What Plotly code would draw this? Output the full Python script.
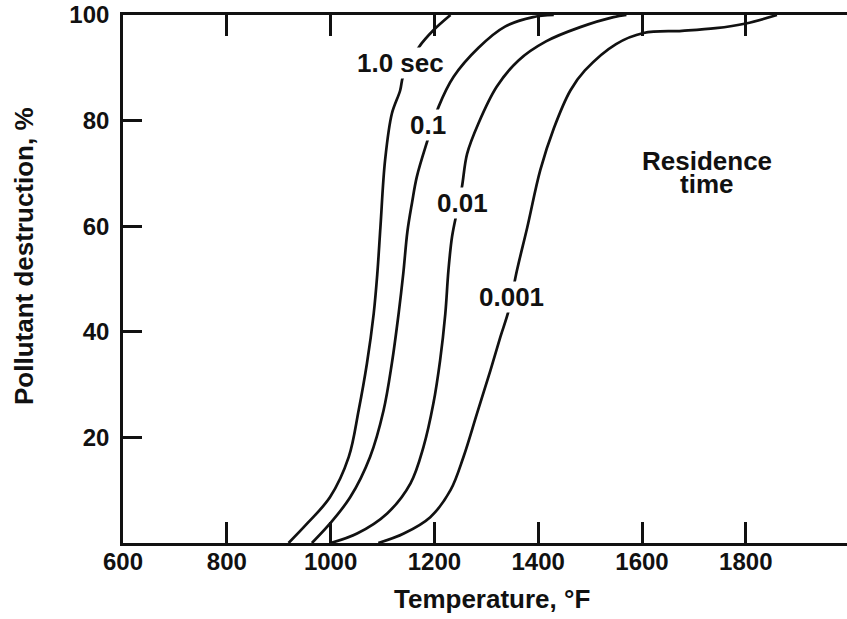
import plotly.graph_objects as go

# Residence time curves: temperature (°F) vs pollutant destruction (%)
t_10 = [919, 955, 999, 1035, 1054, 1070, 1083, 1090, 1096, 1105, 1118, 1134, 1140, 1170, 1198, 1231]
p_10 = [0, 3.7, 8.7, 16.3, 25.1, 34, 43.4, 51, 59.8, 72.5, 81.3, 85.7, 88.5, 93.9, 97.1, 100]

t_01 = [964, 999, 1038, 1076, 1102, 1118, 1131, 1140, 1148, 1157, 1166, 1186, 1208, 1237, 1285, 1336, 1390, 1430]
p_01 = [0, 3.7, 8.7, 16.3, 25.1, 34, 43.4, 51, 59.0, 64.5, 69.3, 76, 82.6, 88.3, 93.8, 97.8, 99.6, 100]

t_001 = [1000, 1051, 1109, 1154, 1179, 1198, 1211, 1221, 1227, 1234, 1244, 1253, 1263, 1285, 1320, 1362, 1415, 1481, 1545, 1570]
p_001 = [0, 1.8, 5.6, 11.3, 18.2, 26.4, 34.6, 43.4, 51.6, 58, 63, 67.4, 73.7, 79.5, 86.4, 91.4, 95, 97.7, 99.6, 100]

t_0001 = [1092, 1141, 1192, 1231, 1256, 1282, 1308, 1327, 1343, 1359, 1379, 1404, 1430, 1462, 1490, 1550, 1603, 1677, 1742, 1800, 1860]
p_0001 = [0, 1.8, 4.9, 10, 16.3, 24.5, 32.7, 39, 44, 51.6, 59.8, 70.6, 78.5, 85.7, 89.5, 94.5, 96.6, 97.0, 97.5, 98.4, 100]

x_ticks = [600, 800, 1000, 1200, 1400, 1600, 1800]
y_ticks = [20, 40, 60, 80, 100]

labels = ["1.0 sec", "0.1", "0.01", "0.001"]
label_x = [1134, 1188, 1255, 1349]
label_y = [90.9, 79.2, 64.4, 46.6]

FONT = "Liberation Sans, Arial, sans-serif"
LW = 2.7
INK = "#111111"
TXT = 26

fig = go.Figure()
for t, p in [(t_10, p_10), (t_01, p_01), (t_001, p_001), (t_0001, p_0001)]:
    fig.add_trace(go.Scatter(x=t, y=p, mode="lines",
                             line=dict(color=INK, width=LW, shape="spline"),
                             showlegend=False, hoverinfo="skip"))

for txt, x, y in zip(labels, label_x, label_y):
    fig.add_annotation(x=x, y=y, text="<b>%s</b>" % txt, showarrow=False,
                       font=dict(family=FONT, size=TXT, color=INK),
                       bgcolor="white", borderpad=0)

fig.add_annotation(x=1725, y=72.4, text="<b>Residence</b>", showarrow=False,
                   font=dict(family=FONT, size=TXT, color=INK))
fig.add_annotation(x=1725, y=67.9, text="<b>time</b>", showarrow=False,
                   font=dict(family=FONT, size=TXT, color=INK))

# axis titles
fig.add_annotation(xref="paper", yref="paper", x=(24 - 123) / 724, y=(543 - 256) / 528,
                   text="<b>Pollutant destruction, %</b>", textangle=-90, showarrow=False,
                   xanchor="center", yanchor="middle",
                   font=dict(family=FONT, size=TXT, color=INK))
fig.add_annotation(xref="paper", yref="paper", x=(491.5 - 123) / 724, y=(543 - 599) / 528,
                   text="<b>Temperature, °F</b>", showarrow=False,
                   xanchor="center", yanchor="middle",
                   font=dict(family=FONT, size=TXT, color=INK))

fig.update_layout(
    width=847, height=619,
    margin=dict(l=123, r=0, t=15, b=76),
    paper_bgcolor="white", plot_bgcolor="white",
    xaxis=dict(range=[600, 1995], tickvals=x_ticks, ticktext=[str(v) for v in x_ticks],
               ticks="inside", ticklen=21, tickwidth=LW, tickcolor=INK,
               showline=True, linewidth=LW, linecolor=INK, mirror="ticks",
               showgrid=False, zeroline=False, ticklabelstandoff=-5,
               tickfont=dict(family=FONT, size=24, color=INK, weight="bold")),
    yaxis=dict(range=[0, 100], tickvals=y_ticks, ticktext=[str(v) for v in y_ticks],
               ticks="inside", ticklen=19, tickwidth=LW, tickcolor=INK,
               showline=True, linewidth=LW, linecolor=INK,
               showgrid=False, zeroline=False, ticklabelstandoff=6,
               tickfont=dict(family=FONT, size=24, color=INK, weight="bold")),
    yaxis2=dict(range=[0, 100], overlaying="y", side="right", tickvals=[20, 40, 60, 80],
                ticks="inside", ticklen=19, tickwidth=LW, tickcolor=INK,
                showline=False, showgrid=False, zeroline=False, showticklabels=False),
)

fig.write_html("out.html", config={"displayModeBar": False},
               post_script="document.body.style.margin='0';document.body.style.overflow='hidden';")
